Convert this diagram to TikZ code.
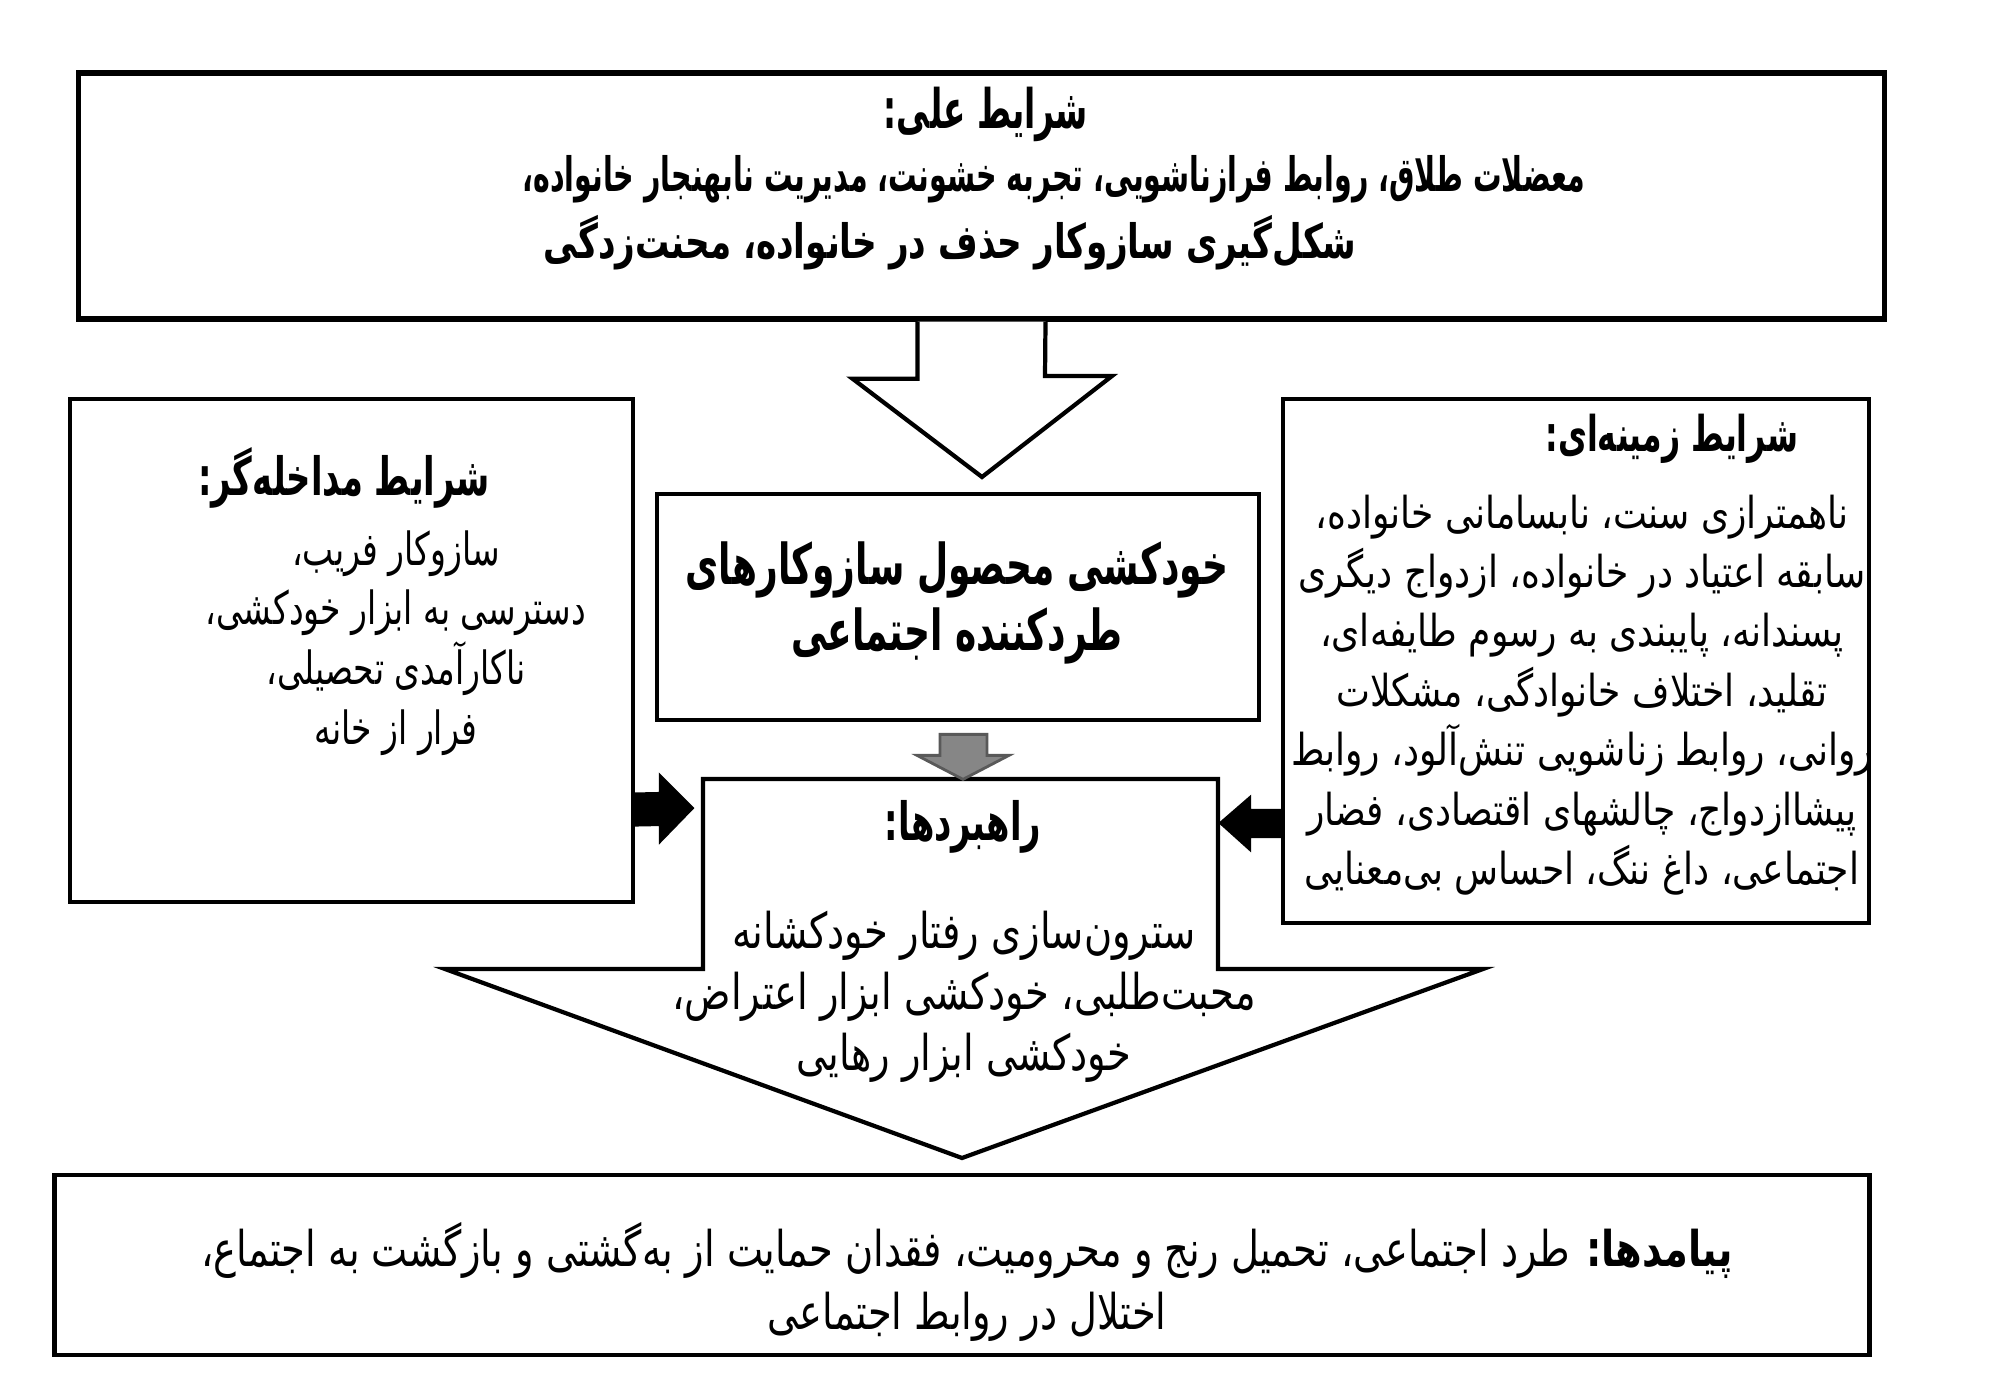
\documentclass[tikz,border=0pt]{standalone}
\usepackage{fontspec}
\usetikzlibrary{calc}
\TeXXeTstate=1
\newfontfamily\faTop[Script=Arabic,FakeStretch=0.60]{DejaVu Sans}
\newfontfamily\faTopB[Script=Arabic,FakeStretch=0.72]{DejaVu Sans}
\newfontfamily\faHead[Script=Arabic,FakeStretch=0.64]{DejaVu Sans}
\newfontfamily\faLeft[Script=Arabic,FakeStretch=0.72]{DejaVu Sans}
\newfontfamily\faMid[Script=Arabic,FakeStretch=0.78]{DejaVu Sans}
\newfontfamily\faRight[Script=Arabic,FakeStretch=0.82]{DejaVu Sans}
\newcommand{\rl}[1]{\beginR #1\endR}
\begin{document}
\begin{tikzpicture}[x=0.01cm,y=-0.01cm,
  box/.style={draw,line width=1.3pt,rectangle,inner sep=0pt,fill=white},
  txt/.style={align=center,inner sep=0pt},
  hollow/.style={draw,line width=1.2pt,fill=white,line join=miter},
  solidarrow/.style={fill=black,draw=black,line width=0.6pt},
  grayarrow/.style={fill=gray!95,draw=gray!70!black,line width=0.8pt},
]
\useasboundingbox (0,0) rectangle (2000,1391);
% boxes
\node[box,line width=1.5pt,minimum width=18.05cm,minimum height=2.46cm] (top) at (981.5,196) {};
\node[box,minimum width=5.63cm,minimum height=5.03cm] (left) at (351.5,650.5) {};
\node[box,minimum width=5.86cm,minimum height=5.24cm] (right) at (1576,661) {};
\node[box,minimum width=6.02cm,minimum height=2.26cm] (center) at (958,607) {};
\node[box,minimum width=18.14cm,minimum height=1.80cm] (bottom) at (962,1265) {};
% strategies block arrow
\coordinate (sA) at (703,779);
\coordinate (sB) at (1218,779);
\coordinate (sTip) at (962,1158);
\draw[hollow] (sA) -- (sB) -- (1218,969) -- (1483,969) -- (sTip) -- (445,969) -- (703,969) -- cycle;
% top hollow arrow
\draw[hollow] ($(top.south)+(-64,0)$) -- ++(0,57) -- ++(-65,0) -- (982,477) -- (1112,376) -- (1045,376) -- ($(top.south)+(64,0)$);
% gray arrow
\draw[grayarrow] ($(center.south)+(-18,12)$) -- ++(47,0) -- ++(0,21) -- ++(22,0) -- ($(center.south)+(5,57)$) -- ($(center.south)+(-41,33)$) -- ++(23,0) -- cycle;
% black arrows
\coordinate (lT) at (693,808);
\coordinate (rT) at (1220,823);
\draw[solidarrow] ($(left.east)+(0,143)$) -- (660,793) -- (660,775) -- (lT) -- (660,842) -- (660,825) -- ($(left.east)+(0,175)$) -- cycle;
\draw[solidarrow] ($(right.west)+(0,149)$) -- (1250,810) -- (1250,797) -- (rT) -- (1250,850) -- (1250,837) -- ($(right.west)+(0,176)$) -- cycle;
% texts
\node[txt,font=\faTop\bfseries\fontsize{15.5}{18}\selectfont] (toptitle) at (986,114) {\rl{شرایط علی:}};
\node[txt,font=\faTop\bfseries\fontsize{13.5}{16.5}\selectfont] (topline1) at (1054,179) {\rl{معضلات طلاق، روابط فرازناشویی، تجربه خشونت، مدیریت نابهنجار خانواده،}};
\node[txt,font=\faTopB\bfseries\fontsize{13.5}{16.5}\selectfont] (topline2) at (950,243) {\rl{شکل‌گیری سازوکار حذف در خانواده، محنت‌زدگی}};
\node[txt,font=\faHead\bfseries\fontsize{15}{18}\selectfont] (lefttitle) at (344,478) {\rl{شرایط مداخله‌گر:}};
\node[txt,font=\faLeft\fontsize{13}{17}\selectfont] (leftbody) at (396,643) {\rl{سازوکار فریب،}\\\rl{دسترسی به ابزار خودکشی،}\\\rl{ناکارآمدی تحصیلی،}\\\rl{فرار از خانه}};
\node[txt,font=\faHead\bfseries\fontsize{14}{17}\selectfont] (righttitle) at (1672,439) {\rl{شرایط زمینه‌ای:}};
\node[txt,font=\faRight\fontsize{12.5}{16.9}\selectfont] (rightbody) at (1582,695) {\rl{ناهمترازی سنت، نابسامانی خانواده،}\\\rl{سابقه اعتیاد در خانواده، ازدواج دیگری}\\\rl{پسندانه، پایبندی به رسوم طایفه‌ای،}\\\rl{تقلید، اختلاف خانوادگی، مشکلات}\\\rl{روانی، روابط زناشویی تنش‌آلود، روابط}\\\rl{پیشاازدواج، چالشهای اقتصادی، فضار}\\\rl{اجتماعی، داغ ننگ، احساس بی‌معنایی}};
\node[txt,font=\faHead\bfseries\fontsize{16}{19}\selectfont] (centertext) at (957,603) {\rl{خودکشی محصول سازوکارهای}\\\rl{طردکننده اجتماعی}};
\node[txt,font=\faHead\bfseries\fontsize{15}{18}\selectfont] (strattitle) at (963,827) {\rl{راهبردها:}};
\node[txt,font=\faMid\fontsize{14}{17.3}\selectfont] (stratbody) at (964,997) {\rl{سترون‌سازی رفتار خودکشانه}\\\rl{محبت‌طلبی، خودکشی ابزار اعتراض،}\\\rl{خودکشی ابزار رهایی}};
\node[txt,font=\faMid\fontsize{14}{18}\selectfont] (bottomtext) at (967,1282) {\rl{{\bfseries پیامدها:} طرد اجتماعی، تحمیل رنج و محرومیت، فقدان حمایت از به‌گشتی و بازگشت به اجتماع،}\\\rl{اختلال در روابط اجتماعی}};
\end{tikzpicture}
\end{document}
